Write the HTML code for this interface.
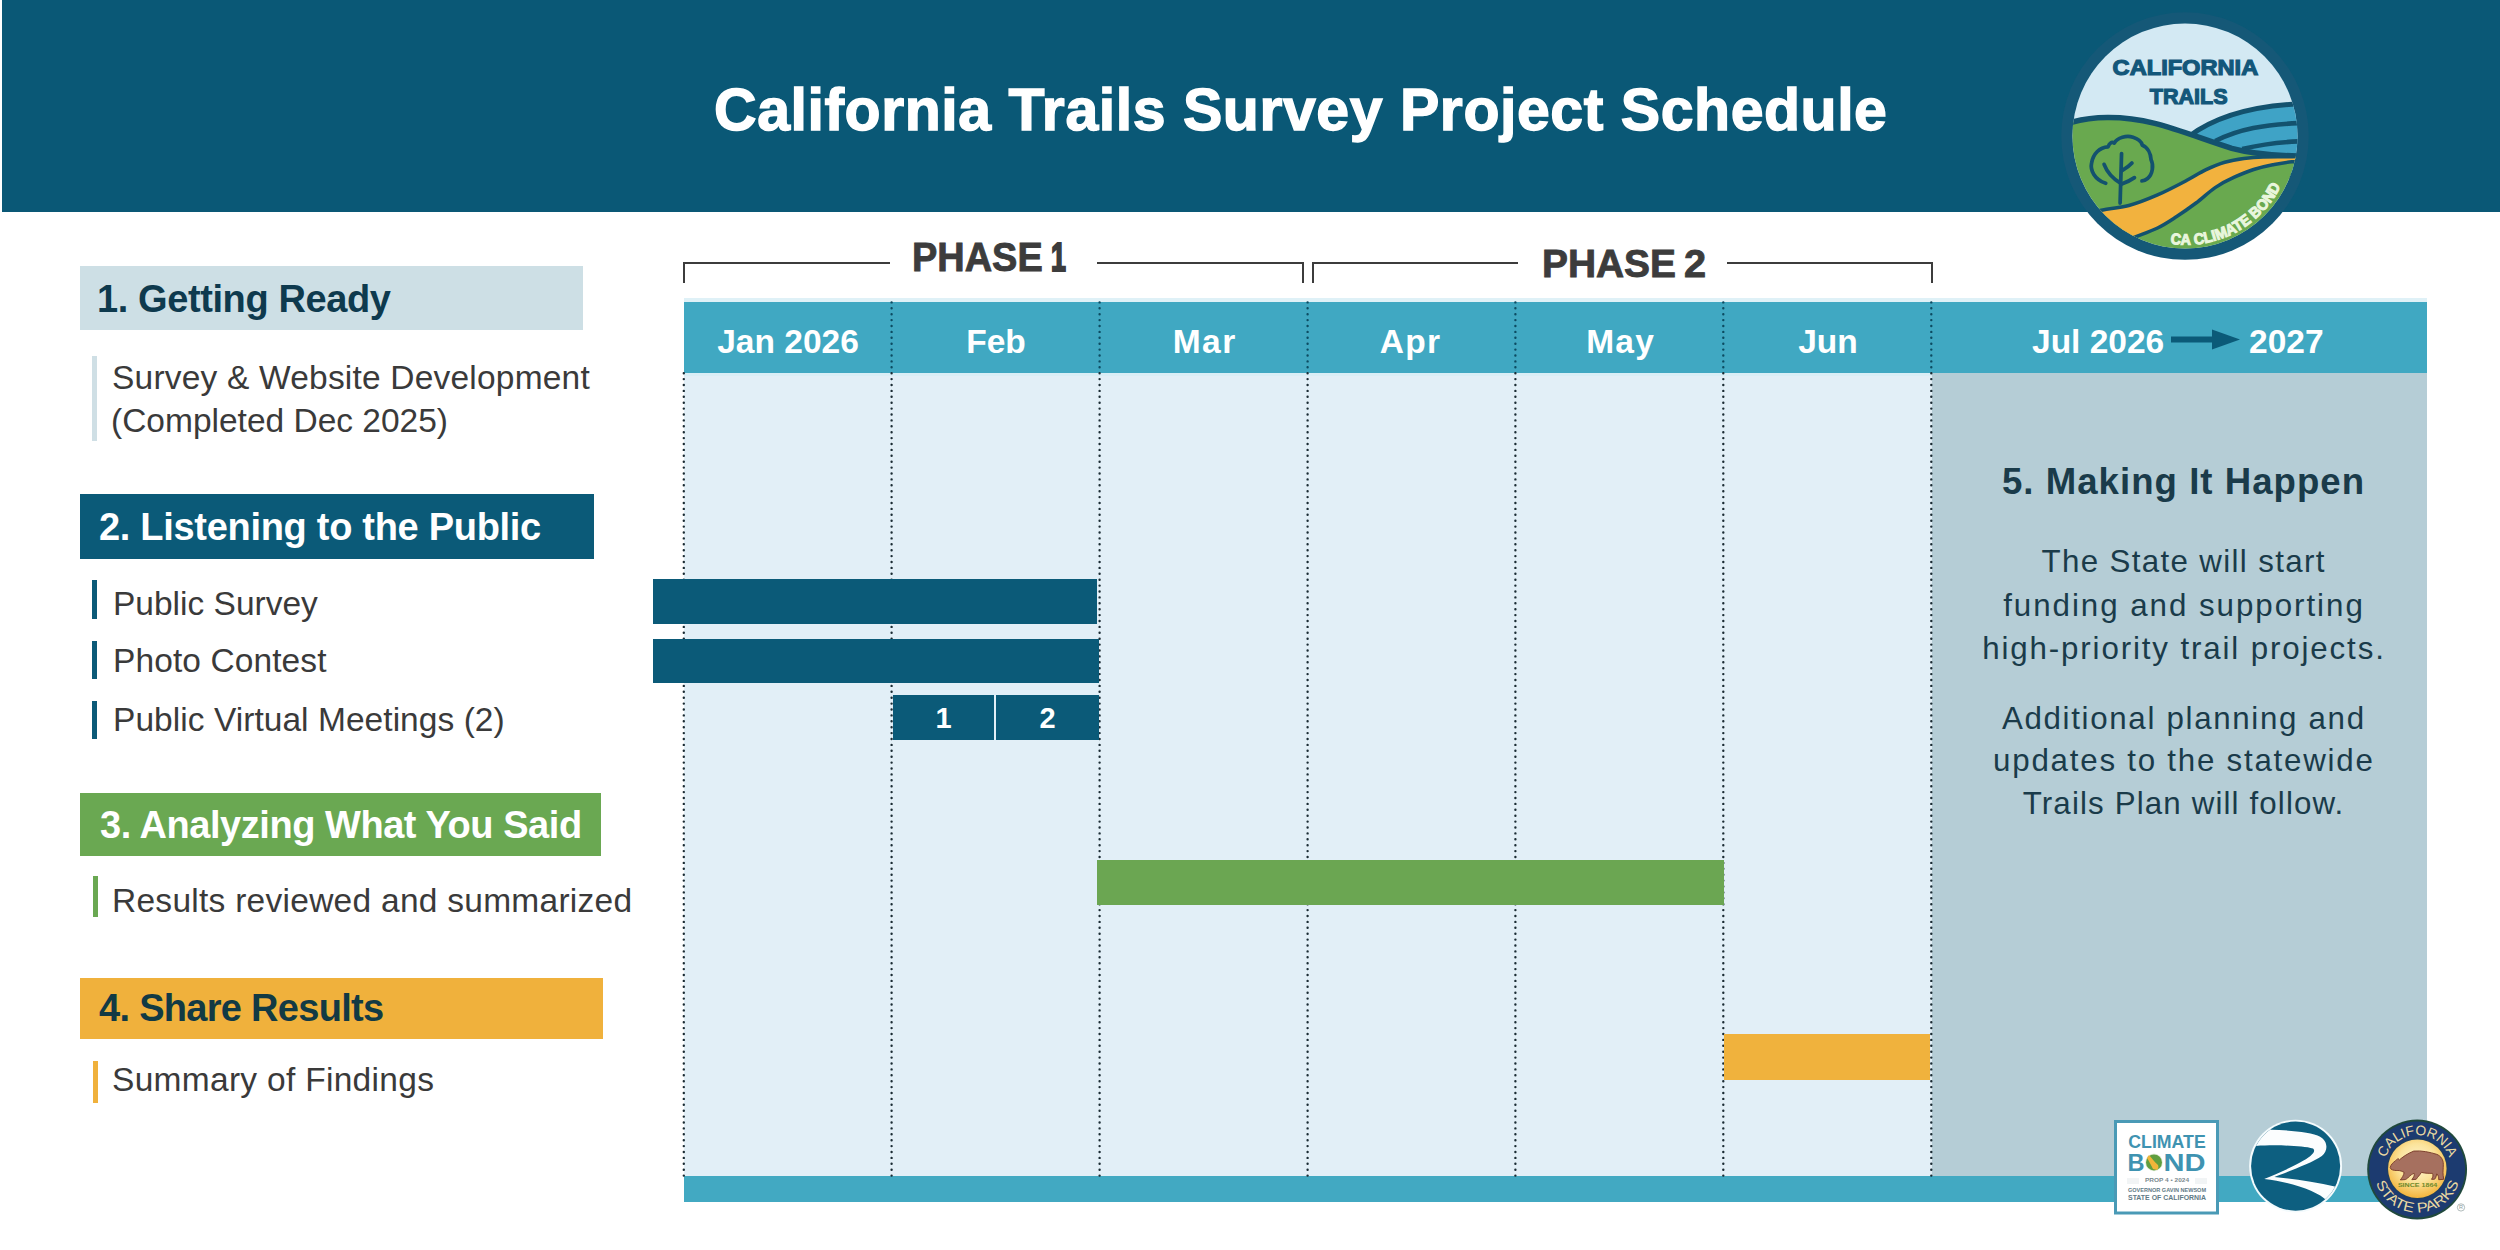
<!DOCTYPE html>
<html lang="en">
<head>
<meta charset="utf-8">
<title>California Trails Survey Project Schedule</title>
<style>
*{margin:0;padding:0;box-sizing:border-box}
html,body{width:2500px;height:1250px;overflow:hidden;background:#fff}
body{position:relative;font-family:"Liberation Sans",Arial,sans-serif}
.a{position:absolute}
.t{position:absolute;white-space:nowrap;line-height:1}
#hdr{left:2px;top:0;width:2498px;height:212px;background:#0a5876}
#title{left:714px;top:81px;color:#fff;font-weight:700;font-size:59px;letter-spacing:0.55px;-webkit-text-stroke:1.4px #fff;transform-origin:0 0}
.box{position:absolute;left:80px}
.box span{position:absolute;left:20px;white-space:nowrap;font-weight:700;font-size:38px;line-height:1}
.bar{position:absolute;left:92px;width:5px}
.item{position:absolute;left:113px;white-space:nowrap;font-size:33.5px;color:#3a3a3a;line-height:1}
.bk{position:absolute;background:#3c3c3c}
.ph{position:absolute;white-space:nowrap;font-weight:700;font-size:40px;color:#3c3c3c;line-height:1;-webkit-text-stroke:0.9px #3c3c3c}
#mh{left:684px;top:302px;width:1743px;height:70.5px;background:#40a8c2;box-shadow:0 -4px 0 #dff1f7}
#body{left:684px;top:372.5px;width:1743px;height:803.5px;background:#e2eff7;border-top:3px solid #d9eef6}
#gray{left:1932px;top:373px;width:495px;height:803px;background:#b5cdd6}
#foot{left:684px;top:1176px;width:1743px;height:26px;background:#42a9c2}
.mo{position:absolute;top:324.6px;width:208px;text-align:center;color:#fff;font-weight:700;font-size:33.5px;line-height:1;white-space:nowrap}
.gb{position:absolute}
.mk{position:absolute;color:#1a3b4a;text-align:center;white-space:nowrap;line-height:1}
</style>
</head>
<body>
<div id="hdr" class="a"></div>
<div id="title" class="t m">California Trails Survey Project Schedule</div>

<svg class="a" style="left:2055px;top:10px" width="260" height="260" viewBox="0 0 1250 1250">
<defs><clipPath id="lc"><circle cx="625" cy="606" r="541"/></clipPath>
<path id="cab" d="M 519,1117 A 510 510 0 0 0 1117,770"/></defs>
<circle cx="625" cy="606" r="595" fill="#155877"/>
<g clip-path="url(#lc)">
<rect x="0" y="0" width="1250" height="1250" fill="#d3e9f3"/>
<path d="M 640,610 C 760,520 950,455 1220,450 L 1220,800 L 640,800 Z" fill="#3fa3c6" stroke="#13526e" stroke-width="24"/>
<path d="M 770,630 C 880,575 1000,548 1220,542" fill="none" stroke="#13526e" stroke-width="22"/>
<path d="M 900,668 C 1000,645 1080,632 1220,630" fill="none" stroke="#13526e" stroke-width="22"/>
<path d="M 40,552 C 170,505 330,508 480,545 C 600,575 720,625 850,665 C 960,695 1080,702 1220,702 L 1220,1250 L 40,1250 Z" fill="#69a94f" stroke="#13526e" stroke-width="26"/>
<path d="M 120,984 C 138,980 191,968 230,961 C 269,954 311,952 355,940 C 399,928 447,909 493,889 C 539,869 594,840 632,820 C 670,800 693,784 724,769 C 755,754 785,741 816,732 C 847,723 877,718 908,714 C 939,710 962,708 1001,707 C 1040,706 1099,706 1139,705 C 1179,704 1223,704 1240,704 L 1240,730 C 1223,730 1171,728 1139,730 C 1107,732 1078,738 1047,744 C 1016,750 986,757 955,767 C 924,777 893,790 862,804 C 831,818 801,833 770,854 C 739,875 709,905 678,928 C 647,951 616,973 585,993 C 554,1013 528,1031 493,1048 C 458,1065 410,1081 378,1094 C 346,1107 313,1122 300,1128 L 250,1160 L 100,1040 Z" fill="#f2b23e" stroke="#13526e" stroke-width="17" stroke-linejoin="round"/>
<g fill="none" stroke="#13526e" stroke-width="18" stroke-linecap="round" stroke-linejoin="round">
<path d="M 244,833 C 190,815 168,770 176,735 C 184,690 215,660 255,658 C 262,640 272,632 285,640 C 300,612 345,602 375,612 C 400,620 415,630 420,650 C 445,660 460,690 462,720 C 475,745 470,790 445,810 C 435,818 425,822 418,822"/>
<path d="M 313,928 L 320,690"/>
<path d="M 318,835 C 285,815 250,780 236,742"/>
<path d="M 322,772 C 340,762 358,750 370,736"/>
<path d="M 318,838 C 340,830 365,818 382,806"/>
</g>
</g>
<text font-family="Liberation Sans, Arial, sans-serif" font-weight="700" font-size="110" fill="#13577a" stroke="#13577a" stroke-width="6" text-anchor="middle" x="627" y="312" textLength="700" lengthAdjust="spacingAndGlyphs">CALIFORNIA</text>
<text font-family="Liberation Sans, Arial, sans-serif" font-weight="700" font-size="110" fill="#13577a" stroke="#13577a" stroke-width="6" text-anchor="middle" x="643" y="450" textLength="375" lengthAdjust="spacingAndGlyphs">TRAILS</text>
<text font-family="Liberation Sans, Arial, sans-serif" font-weight="700" font-size="74" fill="#e9f6dd" stroke="#e9f6dd" stroke-width="5"><textPath href="#cab" startOffset="36" textLength="640" lengthAdjust="spacingAndGlyphs">CA CLIMATE BOND</textPath></text>
</svg>

<!-- left column -->
<div class="box" style="top:266px;width:503px;height:64px;background:#cddfe5"><span class="m" style="top:14px;left:17px;letter-spacing:-0.4px;color:#0e3a4e">1. Getting Ready</span></div>
<div class="bar" style="top:356px;height:85px;background:#cfdfe5"></div>
<div class="item m" style="top:361px;left:112px;letter-spacing:0.2px">Survey &amp; Website Development</div>
<div class="item m" style="top:404px;left:111px">(Completed Dec 2025)</div>

<div class="box" style="top:494px;width:514px;height:65px;background:#0b5a78"><span class="m" style="top:14px;left:19px;letter-spacing:-0.3px;color:#fff">2. Listening to the Public</span></div>
<div class="bar" style="top:580px;height:39px;background:#0b5a78"></div>
<div class="item m" style="top:587px;left:113px">Public Survey</div>
<div class="bar" style="top:641px;height:38px;background:#0b5a78"></div>
<div class="item m" style="top:644px;left:113px;letter-spacing:0.1px">Photo Contest</div>
<div class="bar" style="top:701px;height:38px;background:#0b5a78"></div>
<div class="item m" style="top:703px;left:113px;letter-spacing:0.05px">Public Virtual Meetings (2)</div>

<div class="box" style="top:793px;width:521px;height:63px;background:#6aa852"><span class="m" style="top:13px;left:20px;letter-spacing:-0.45px;color:#fff">3. Analyzing What You Said</span></div>
<div class="bar" style="top:876px;height:41px;background:#6aa852;left:93px"></div>
<div class="item m" style="top:884px;left:112px;letter-spacing:0.27px">Results reviewed and summarized</div>

<div class="box" style="top:978px;width:523px;height:61px;background:#f0b13c"><span class="m" style="top:11px;left:19px;letter-spacing:-0.7px;color:#123a44">4. Share Results</span></div>
<div class="bar" style="top:1061px;height:42px;background:#f0b13c;left:93px"></div>
<div class="item m" style="top:1063px;left:112px;letter-spacing:0.3px">Summary of Findings</div>

<!-- phase brackets -->
<div class="bk" style="left:683px;top:262px;width:207px;height:2px"></div>
<div class="bk" style="left:683px;top:262px;width:2px;height:21px"></div>
<div class="bk" style="left:1097px;top:262px;width:207px;height:2px"></div>
<div class="bk" style="left:1302px;top:262px;width:2px;height:21px"></div>
<div class="ph m" style="left:912px;top:237px;font-size:40.6px;transform:scaleX(0.935);transform-origin:0 0">PHASE</div><div class="ph m" style="left:1051px;top:237px;font-size:40.6px;transform:scaleX(0.66);transform-origin:0 0;-webkit-text-stroke:2.2px #3c3c3c">1</div>
<div class="bk" style="left:1312px;top:262px;width:206px;height:2px"></div>
<div class="bk" style="left:1312px;top:262px;width:2px;height:21px"></div>
<div class="bk" style="left:1727px;top:262px;width:206px;height:2px"></div>
<div class="bk" style="left:1931px;top:262px;width:2px;height:21px"></div>
<div class="ph m" style="left:1542px;top:244px;font-size:39.7px;transform:scaleX(0.98);transform-origin:0 0">PHASE</div><div class="ph m" style="left:1684px;top:244px;font-size:39.7px">2</div>

<!-- chart -->
<div id="mh" class="a"></div>
<div id="body" class="a"></div>
<div id="gray" class="a"></div>
<div id="foot" class="a"></div>

<div class="mo m" style="left:684px">Jan 2026</div>
<div class="mo m" style="left:892px">Feb</div>
<div class="mo m" style="left:1100px;letter-spacing:1.5px;text-indent:1.5px">Mar</div>
<div class="mo m" style="left:1306px;letter-spacing:1.3px;text-indent:1.3px">Apr</div>
<div class="mo m" style="left:1516px;letter-spacing:1.2px;text-indent:1.2px">May</div>
<div class="mo m" style="left:1724px">Jun</div>
<div class="mo m" style="left:2032px;width:auto">Jul 2026</div>
<svg class="a" style="left:2171px;top:329px" width="70" height="21" viewBox="0 0 70 21"><rect x="0" y="7.5" width="43" height="6" fill="#0b5a78"/><polygon points="41,0.5 69,10.5 41,20.5" fill="#0b5a78"/></svg>
<div class="mo m" style="left:2249px;width:auto">2027</div>

<svg class="a" style="left:0;top:0" width="2500" height="1250" viewBox="0 0 2500 1250">
<g fill="none" stroke-linecap="round" stroke-width="2.4" stroke-dasharray="0 5.9">
<path stroke="#0c4b61" d="M891.6,302.4V372 M1099.6,302.4V372 M1307.6,302.4V372 M1515.4,302.4V372 M1723.3,302.4V372 M1931.3,302.4V372"/>
<path stroke="#1a2b33" d="M683.8,373.2V1176 M891.6,373.2V1176 M1099.6,373.2V1176 M1307.6,373.2V1176 M1515.4,373.2V1176 M1723.3,373.2V1176 M1931.3,373.2V1176"/>
</g></svg>
<!-- bars -->
<div class="gb" style="left:653px;top:579px;width:444px;height:45px;background:#0b5a78"></div>
<div class="gb" style="left:653px;top:639px;width:446px;height:44px;background:#0b5a78"></div>
<div class="gb" style="left:893px;top:695px;width:101px;height:45px;background:#0b5a78"></div>
<div class="gb" style="left:996px;top:695px;width:103px;height:45px;background:#0b5a78"></div>
<div class="t m" style="left:893px;top:704px;width:101px;text-align:center;color:#fff;font-weight:700;font-size:29px">1</div>
<div class="t m" style="left:996px;top:704px;width:103px;text-align:center;color:#fff;font-weight:700;font-size:29px">2</div>
<div class="gb" style="left:1097px;top:860px;width:627px;height:45px;background:#6ba652"></div>
<div class="gb" style="left:1724px;top:1034px;width:206px;height:46px;background:#f0b23d"></div>

<!-- making it happen -->
<div class="mk m" style="letter-spacing:1.04px;text-indent:1.04px;left:1932px;width:502px;top:464px;font-weight:700;font-size:36.6px">5. Making It Happen</div>
<div class="mk m" style="letter-spacing:1.34px;text-indent:1.34px;left:1932px;width:502px;top:546.3px;font-size:31.3px">The State will start</div>
<div class="mk m" style="letter-spacing:1.96px;text-indent:1.96px;left:1932px;width:502px;top:589.5px;font-size:31.3px">funding and supporting</div>
<div class="mk m" style="letter-spacing:1.86px;text-indent:1.86px;left:1932px;width:502px;top:632.5px;font-size:31.3px">high-priority trail projects.</div>
<div class="mk m" style="letter-spacing:1.67px;text-indent:1.67px;left:1932px;width:502px;top:703.0px;font-size:31.3px">Additional planning and</div>
<div class="mk m" style="letter-spacing:1.76px;text-indent:1.76px;left:1932px;width:502px;top:744.5px;font-size:31.3px">updates to the statewide</div>
<div class="mk m" style="letter-spacing:1.13px;text-indent:1.13px;left:1932px;width:502px;top:787.8px;font-size:31.3px">Trails Plan will follow.</div>

<!-- bottom logos -->
<svg class="a" style="left:2114px;top:1120px" width="106" height="96" viewBox="0 0 106 96">
<rect x="1.5" y="1.5" width="102" height="91.5" fill="#fff" stroke="#4a9ab6" stroke-width="3"/>
<text x="53" y="27.8" text-anchor="middle" font-family="Liberation Sans, Arial, sans-serif" font-weight="700" font-size="17.5" fill="#3f93b1" textLength="77.5" lengthAdjust="spacingAndGlyphs">CLIMATE</text>
<text x="13.5" y="50.8" font-family="Liberation Sans, Arial, sans-serif" font-weight="700" font-size="24" fill="#3f93b1" textLength="17" lengthAdjust="spacingAndGlyphs">B</text>
<text x="49.5" y="50.8" font-family="Liberation Sans, Arial, sans-serif" font-weight="700" font-size="24" fill="#3f93b1" textLength="42" lengthAdjust="spacingAndGlyphs">ND</text>
<circle cx="40" cy="42.4" r="8.8" fill="#e4ecd8"/>
<circle cx="40" cy="42.4" r="8" fill="#5f9e3f"/>
<path d="M 35,35 C 38,38 40,42 44,45 C 45,47 44,49 43,50 L 39,49 C 37,45 35,41 33,38 Z" fill="#f0b53a"/>
<g stroke="#dde3e6" stroke-width="0.8"><line x1="13" y1="59" x2="25" y2="59"/><line x1="13" y1="61" x2="25" y2="61"/><line x1="13" y1="63" x2="25" y2="63"/><line x1="81" y1="59" x2="93" y2="59"/><line x1="81" y1="61" x2="93" y2="61"/><line x1="81" y1="63" x2="93" y2="63"/></g>
<text x="53" y="62" text-anchor="middle" font-family="Liberation Sans, Arial, sans-serif" font-weight="700" font-size="5.8" fill="#7b8a90" textLength="44" lengthAdjust="spacingAndGlyphs">PROP 4 • 2024</text>
<text x="53" y="72" text-anchor="middle" font-family="Liberation Sans, Arial, sans-serif" font-weight="700" font-size="4.6" fill="#5f7a86" textLength="78" lengthAdjust="spacingAndGlyphs">GOVERNOR GAVIN NEWSOM</text>
<text x="53" y="79.8" text-anchor="middle" font-family="Liberation Sans, Arial, sans-serif" font-weight="700" font-size="6.4" fill="#5f7a86" textLength="78" lengthAdjust="spacingAndGlyphs">STATE OF CALIFORNIA</text>
</svg>
<svg class="a" style="left:2240px;top:1112px" width="110" height="110" viewBox="0 0 1250 1250">
<defs><clipPath id="rc"><circle cx="632" cy="615" r="505"/></clipPath></defs>
<circle cx="632" cy="615" r="528" fill="#f4fbfd"/>
<circle cx="632" cy="615" r="506" fill="#0d5f80"/>
<path clip-path="url(#rc)" fill="#fbfdfe" d="M 100,390 L 100,100 L 300,100 L 350,203 C 560,205 820,230 910,280 C 1000,330 1005,440 930,500 C 820,580 560,670 390,738 C 600,760 850,790 1090,850 L 1200,850 L 1200,1150 L 990,1010 C 880,900 600,800 275,762 C 450,690 700,580 800,500 C 850,460 850,430 830,415 C 700,380 400,372 180,385 Z"/>
</svg>
<svg class="a" style="left:2360px;top:1110px" width="120" height="120" viewBox="0 0 1250 1250">
<defs>
<radialGradient id="sg" cx="50%" cy="40%" r="60%"><stop offset="0" stop-color="#fff8dc"/><stop offset="0.55" stop-color="#fbe39a"/><stop offset="1" stop-color="#f4b43c"/></radialGradient>
<path id="spt" d="M 260.6,515.5 A 350 350 0 0 1 933.4,515.5"/>
<path id="spb" d="M 157.5,729.8 A 455 455 0 0 0 1036.5,729.8"/>
</defs>
<circle cx="595" cy="620" r="520" fill="#20493c"/>
<circle cx="595" cy="620" r="500" fill="#1c3b70"/>
<circle cx="597" cy="612" r="318" fill="#213f5f"/>
<circle cx="597" cy="612" r="305" fill="url(#sg)"/>
<path d="M 315,600 C 320,570 345,545 370,530 L 395,505 L 410,520 C 440,495 490,455 560,428 C 640,420 730,440 800,462 C 845,480 868,520 868,565 C 868,610 862,640 866,680 L 872,722 L 820,726 C 822,700 815,680 800,665 L 790,700 C 788,712 780,720 770,722 L 745,722 C 760,700 765,680 755,660 C 720,660 680,660 640,650 C 620,680 600,700 585,722 L 540,726 C 560,700 570,680 565,660 C 545,665 525,680 505,700 C 495,712 480,722 470,725 L 420,728 C 440,705 455,680 460,650 C 440,640 420,630 395,630 C 370,632 345,628 325,618 Z" fill="#a6705f" stroke="#7a3d2a" stroke-width="10" stroke-linejoin="round"/>
<text x="600" y="807" text-anchor="middle" font-family="Liberation Sans, Arial, sans-serif" font-weight="700" font-size="62" fill="#6e8a2c" textLength="410" lengthAdjust="spacingAndGlyphs">SINCE 1864</text>
<text font-family="Liberation Sans, Arial, sans-serif" font-size="145" fill="#ead9a2" text-anchor="middle"><textPath href="#spt" startOffset="50%" textLength="870" lengthAdjust="spacingAndGlyphs">CALIFORNIA</textPath></text>
<text font-family="Liberation Sans, Arial, sans-serif" font-size="145" fill="#ead9a2" text-anchor="middle"><textPath href="#spb" startOffset="50%" textLength="1130" lengthAdjust="spacingAndGlyphs">STATE PARKS</textPath></text>
<circle cx="1052" cy="1015" r="38" fill="none" stroke="#8a9a9a" stroke-width="7"/>
<text x="1052" y="1036" text-anchor="middle" font-family="Liberation Sans, Arial, sans-serif" font-size="58" fill="#8a9a9a">R</text>
</svg>

</body>
</html>
